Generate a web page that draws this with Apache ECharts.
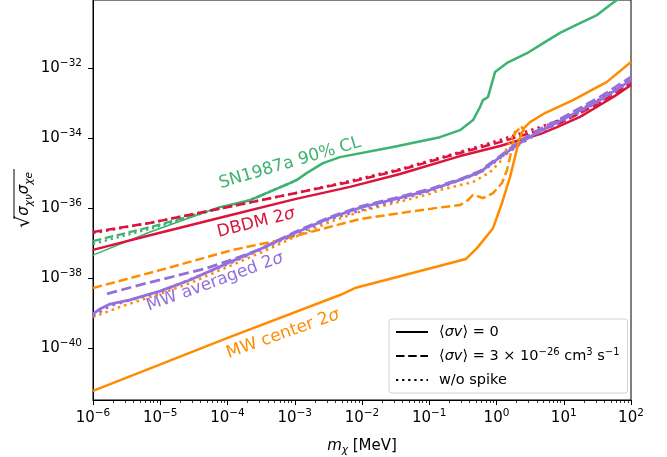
<!DOCTYPE html>
<html>
<head>
<meta charset="UTF-8">
<title>DM-neutrino / DM-electron bounds</title>
<style>
    html, body { margin: 0; padding: 0; background: #fff; }
    #chartArea { width: 667px; height: 457px; }
</style>
</head>
<body>
<div id="chartArea"></div>
<script src="https://cdn.jsdelivr.net/npm/echarts@6/dist/echarts.min.js"></script>
<script>
// all values are log10: x = log10(m_chi / MeV), y = log10(sqrt(sigma_chi_nu * sigma_chi_e))
var xTicks = [-6, -5, -4, -3, -2, -1, 0, 1, 2];
var yTicks = [-40, -38, -36, -34, -32];

// SN1987a 90% CL
var snX = [-6, -5.152, -4.156, -3.665, -3.071, -2.967, -2.818, -2.580, -2.327, -1.539, -0.840, -0.543, -0.349, -0.245, -0.201, -0.126, -0.067, -0.022, 0.156, 0.454, 0.647, 0.944, 1.242, 1.494, 1.688, 1.792, 1.896];
var snY = [-37.35, -36.69, -36.00, -35.78, -35.29, -35.20, -35.00, -34.72, -34.55, -34.26, -33.98, -33.78, -33.49, -33.12, -32.92, -32.83, -32.43, -32.12, -31.86, -31.58, -31.35, -31.00, -30.72, -30.49, -30.20, -30.06, -29.95];
var snAnnX = [-6, -5.152, -4.156, -3.665, -3.071, -2.967];
var snAnnY = [-36.95, -36.55, -36.03, -35.78, -35.29, -35.20];
var snNoSpikeY = [-37.03, -36.60, -36.03, -35.78, -35.29, -35.20];

// DBDM 2 sigma
var dbX = [-6, -5.152, -4.007, -2.996, -2.178, -1.435, -0.543, 0.052, 0.349, 0.647, 0.900, 1.242, 1.539, 1.762, 2.0];
var dbY = [-37.20, -36.78, -36.23, -35.75, -35.40, -35.03, -34.52, -34.23, -34.06, -33.89, -33.69, -33.40, -33.06, -32.80, -32.49];
var dbAnnX = [-6, -5.152, -4.007, -2.996, -2.178, -1.435, -0.543, 0.052, 0.647, 0.944, 1.539, 2.0];
var dbAnnY = [-36.69, -36.43, -35.98, -35.58, -35.26, -34.92, -34.43, -34.12, -33.78, -33.58, -33.00, -32.43];
var dbNoSpikeY = [-36.72, -36.43, -35.98, -35.58, -35.23, -34.89, -34.40, -34.06, -33.69, -33.49, -32.89, -32.32];

// MW averaged 2 sigma
var avX = [-6, -5.896, -5.747, -5.450, -5.004, -4.558, -3.963, -3.517, -2.996, -2.476, -2.0, -1.509, -0.989, -0.543, -0.245, 0.052, 0.349, 0.647, 0.944, 1.539, 2.0];
var avY = [-39.03, -38.89, -38.75, -38.63, -38.38, -38.06, -37.55, -37.18, -36.72, -36.29, -35.98, -35.75, -35.49, -35.20, -34.98, -34.55, -34.15, -33.80, -33.52, -32.92, -32.35];
var avAnnX = [-5.792, -5.301, -4.781, -4.305, -3.814, -3.517, -2.996, -2.476, -2.0, -1.509, -0.989, -0.543, -0.245, 0.052, 0.349, 0.647, 0.944, 1.539, 2.0];
var avAnnY = [-38.46, -38.20, -37.95, -37.72, -37.40, -37.18, -36.69, -36.26, -35.95, -35.72, -35.46, -35.18, -34.95, -34.52, -34.09, -33.75, -33.46, -32.83, -32.26];
var avNoSpikeX = [-6, -5.747, -5.004, -3.963, -2.476, -0.989, -0.245, 0.052, 0.349, 0.647, 0.944, 1.539, 2.0];
var avNoSpikeY = [-39.09, -38.80, -38.40, -37.58, -36.32, -35.52, -35.00, -34.58, -34.18, -33.83, -33.55, -32.95, -32.38];

// MW center 2 sigma
var ceX = [-6, -4.007, -2.327, -2.104, -0.454, -0.290, -0.052, 0.082, 0.201, 0.275, 0.335, 0.409, 0.498, 0.721, 1.138, 1.643, 2.0];
var ceY = [-41.23, -39.72, -38.49, -38.29, -37.46, -37.15, -36.58, -35.86, -35.12, -34.55, -34.06, -33.72, -33.55, -33.29, -32.92, -32.40, -31.83];
var ceAnnX = [-6, -5.004, -3.918, -3.219, -2.431, -2.030, -1.435, -0.885, -0.543, -0.424, -0.349, -0.245, -0.201, -0.052, 0.082, 0.156, 0.201, 0.230, 0.275, 0.320, 0.364, 0.409];
var ceAnnY = [-38.29, -37.78, -37.20, -36.92, -36.52, -36.32, -36.15, -36.00, -35.92, -35.78, -35.63, -35.69, -35.72, -35.58, -35.29, -34.92, -34.55, -34.26, -33.86, -33.78, -33.66, -33.80];
var ceNoSpikeX = [-6, -5.554, -5.004, -4.558, -3.963, -3.517, -2.996, -2.476, -2.0, -1.509, -0.989, -0.840, -0.349, -0.097, 0.052, 0.156, 0.230, 0.275, 0.335];
var ceNoSpikeY = [-39.12, -38.80, -38.46, -38.15, -37.66, -37.29, -36.83, -36.40, -36.09, -35.86, -35.60, -35.49, -35.26, -34.98, -34.69, -34.29, -33.98, -33.83, -33.72];

var GREEN = '#3cb371', RED = '#dc143c', ORANGE = '#ff8c00', PURPLE = '#9370db';
var FONT = 'DejaVu Sans';

function pts(xs, ys) {
    return xs.map(function (x, i) { return [x, ys[i]]; });
}
function dashOf(kind, w) {
    if (kind === 'dashed') return [3.7 * w, 1.6 * w];
    if (kind === 'dotted') return [w, 1.65 * w];
    return 'solid';
}
function curve(name, data, color, kind, w) {
    return {
        name: name,
        type: 'line',
        data: data,
        symbol: 'none',
        showSymbol: false,
        clip: true,
        silent: true,
        itemStyle: { color: color },
        lineStyle: { color: color, width: w, type: dashOf(kind, w), cap: 'butt', join: 'round' }
    };
}
function supExp(v) {
    return (v < 0 ? '\u2212' : '') + Math.abs(v);
}

var minorTicks = [];
for (var n = -6; n < 2; n++) {
    for (var k = 2; k <= 9; k++) minorTicks.push(n + Math.log10(k));
}

var tickRich = {
    b: { fontFamily: FONT, fontSize: 15, color: '#000', lineHeight: 20, verticalAlign: 'middle' },
    s: { fontFamily: FONT, fontSize: 10.5, color: '#000', lineHeight: 11, verticalAlign: 'top' }
};
var legendText = {
    avg0: '{p| }{t|\u27e8}{i|\u03c3v}{t|\u27e9 = 0}',
    avg3: '{p| }{t|\u27e8}{i|\u03c3v}{t|\u27e9 = 3 \u00d7 10}{s|\u221226}{t| cm}{s|3}{t| s}{s|\u22121}',
    nospike: '{p| }{t|w/o spike}'
};

var series = [
    curve('snThin', pts(snX.slice(0, 3), snY.slice(0, 3)), GREEN, 'solid', 1.6),
    curve('sn', pts(snX.slice(2), snY.slice(2)), GREEN, 'solid', 2.5),
    curve('snAnn', pts(snAnnX, snAnnY), GREEN, 'dashed', 2.3),
    curve('snNoSpike', pts(snAnnX, snNoSpikeY), GREEN, 'dotted', 2.3),
    curve('db', pts(dbX, dbY), RED, 'solid', 2.5),
    curve('dbAnn', pts(dbAnnX, dbAnnY), RED, 'dashed', 2.5),
    curve('dbNoSpike', pts(dbAnnX, dbNoSpikeY), RED, 'dotted', 2.5),
    curve('ceNoSpike', pts(ceNoSpikeX, ceNoSpikeY), ORANGE, 'dotted', 2.5),
    curve('ceAnn', pts(ceAnnX, ceAnnY), ORANGE, 'dashed', 2.5),
    curve('avNoSpike', pts(avNoSpikeX, avNoSpikeY), PURPLE, 'dotted', 2.8),
    curve('avAnn', pts(avAnnX, avAnnY), PURPLE, 'dashed', 2.8),
    curve('av', pts(avX, avY), PURPLE, 'solid', 2.8),
    curve('ce', pts(ceX, ceY), ORANGE, 'solid', 2.5),
    // legend-only entries
    curve('avg0', [], '#000', 'solid', 2.3),
    curve('avg3', [], '#000', 'dashed', 2.3),
    curve('nospike', [], '#000', 'dotted', 2.3)
];

function label(text, x, y, deg, color, rich) {
    return {
        type: 'text', x: x, y: y, rotation: deg * Math.PI / 180, silent: true,
        style: {
            text: text, fill: color, fontFamily: FONT, fontSize: 17,
            align: 'center', verticalAlign: 'middle', rich: rich
        }
    };
}
function curveRich(color) {
    return {
        n: { fontFamily: FONT, fontSize: 17, color: color },
        i: { fontFamily: FONT, fontSize: 17, color: color, fontStyle: 'italic' }
    };
}

var myChart = echarts.init(document.getElementById('chartArea'), null, { renderer: 'canvas' });
myChart.setOption({
    animation: false,
    backgroundColor: '#fff',
    grid: {
        left: 93, right: 36, top: 0, bottom: 57,
        outerBoundsMode: 'none', containLabel: false,
        show: true, borderColor: '#000', borderWidth: 1, backgroundColor: 'transparent'
    },
    legend: {
        data: ['avg0', 'avg3', 'nospike'],
        orient: 'vertical',
        left: 389, top: 319,
        padding: [4, 8, 4, 6],
        itemWidth: 32, itemHeight: 14, itemGap: 6,
        selectedMode: false,
        backgroundColor: '#fff',
        borderColor: '#d4d4d4', borderWidth: 1, borderRadius: 3,
        itemStyle: { opacity: 0 },
        formatter: function (name) { return legendText[name]; },
        textStyle: {
            fontFamily: FONT, fontSize: 14.5, color: '#000', lineHeight: 18,
            rich: {
                p: { width: 6 },
                t: { fontFamily: FONT, fontSize: 14.5, color: '#000', lineHeight: 18 },
                i: { fontFamily: FONT, fontSize: 14.5, color: '#000', lineHeight: 18, fontStyle: 'italic' },
                s: { fontFamily: FONT, fontSize: 10, color: '#000', lineHeight: 10, verticalAlign: 'top' }
            }
        }
    },
    xAxis: [
        {
            type: 'value', min: -6, max: 2, interval: 1,
            name: '{i|m}{u|\u03c7}{n| [MeV]}',
            nameLocation: 'middle', nameGap: 36,
            nameTextStyle: {
                rich: {
                    i: { fontFamily: FONT, fontSize: 15, color: '#000', fontStyle: 'italic', lineHeight: 20 },
                    u: { fontFamily: FONT, fontSize: 10.5, color: '#000', fontStyle: 'italic', lineHeight: 10, verticalAlign: 'bottom' },
                    n: { fontFamily: FONT, fontSize: 15, color: '#000', lineHeight: 20 }
                }
            },
            axisLine: { show: true, onZero: false, lineStyle: { color: '#000', width: 1 } },
            axisTick: { show: true, length: 5, lineStyle: { color: '#000', width: 1 }, customValues: xTicks },
            axisLabel: {
                margin: 8, customValues: xTicks,
                formatter: function (v) { return '{b|10}{s|' + supExp(v) + '}'; },
                rich: tickRich
            },
            splitLine: { show: false }
        },
        {
            type: 'value', min: -6, max: 2, position: 'bottom',
            axisLine: { show: false, onZero: false },
            axisTick: { show: true, length: 3, lineStyle: { color: '#000', width: 0.8 }, customValues: minorTicks },
            axisLabel: { show: false },
            splitLine: { show: false }
        }
    ],
    yAxis: {
        type: 'value', min: -41.49, max: -30.06, position: 'left',
        axisLine: { show: true, onZero: false, lineStyle: { color: '#000', width: 1 } },
        axisTick: { show: true, length: 5, lineStyle: { color: '#000', width: 1 }, customValues: yTicks },
        axisLabel: {
            margin: 11, customValues: yTicks,
            formatter: function (v) { return '{b|10}{s|' + supExp(v) + '}'; },
            rich: tickRich
        },
        splitLine: { show: false }
    },
    graphic: [
        label('SN1987a 90% CL', 290, 163, 16.5, GREEN),
        label('{n|DBDM 2}{i|\u03c3}', 256, 223, 14, RED, curveRich(RED)),
        label('{n|MW averaged 2}{i|\u03c3}', 215, 282, 20, PURPLE, curveRich(PURPLE)),
        label('{n|MW center 2}{i|\u03c3}', 283, 334, 19.5, ORANGE, curveRich(ORANGE)),
        {
            type: 'group', x: 24, y: 200, rotation: Math.PI / 2, silent: true,
            children: [
                {
                    type: 'text',
                    style: {
                        text: '{r|\u221a}{s|\u03c3}{b|\u03c7\u03bd}{s|\u03c3}{b|\u03c7e}',
                        align: 'center', verticalAlign: 'middle',
                        rich: {
                            r: { fontFamily: FONT, fontSize: 19, color: '#000', lineHeight: 22 },
                            s: { fontFamily: FONT, fontSize: 15, color: '#000', fontStyle: 'italic', lineHeight: 20 },
                            b: { fontFamily: FONT, fontSize: 10.5, color: '#000', fontStyle: 'italic', lineHeight: 10, verticalAlign: 'bottom' }
                        }
                    }
                },
                { type: 'line', shape: { x1: -19, y1: -10, x2: 31, y2: -10 }, style: { stroke: '#000', lineWidth: 1 } }
            ]
        }
    ],
    series: series
});
</script>
</body>
</html>
